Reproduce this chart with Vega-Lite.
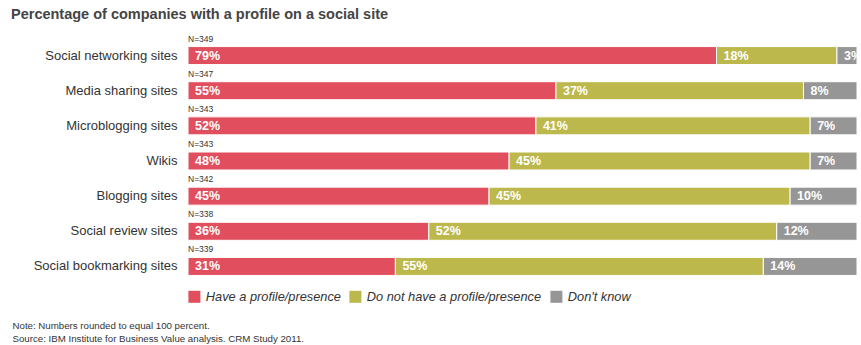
{
  "$schema": "https://vega.github.io/schema/vega-lite/v6.json",
  "autosize": "none",
  "width": 669,
  "height": 246,
  "padding": {"left": 188, "top": 38, "right": 4, "bottom": 61},
  "background": "white",
  "config": {
    "font": "Liberation Sans",
    "view": {"stroke": null}
  },
  "title": {
    "text": "Percentage of companies with a profile on a social site",
    "anchor": "start",
    "frame": "group",
    "dx": -177,
    "offset": 12,
    "fontSize": 14.5,
    "fontWeight": "bold",
    "color": "#444444",
    "font": "Liberation Sans"
  },
  "data": {
    "values": [
      {"site": "Social networking sites", "n": "N=349", "k": 1, "cat": "Have a profile/presence", "value": 79},
      {"site": "Social networking sites", "n": "N=349", "k": 2, "cat": "Do not have a profile/presence", "value": 18},
      {"site": "Social networking sites", "n": "N=349", "k": 3, "cat": "Don't know", "value": 3},
      {"site": "Media sharing sites", "n": "N=347", "k": 1, "cat": "Have a profile/presence", "value": 55},
      {"site": "Media sharing sites", "n": "N=347", "k": 2, "cat": "Do not have a profile/presence", "value": 37},
      {"site": "Media sharing sites", "n": "N=347", "k": 3, "cat": "Don't know", "value": 8},
      {"site": "Microblogging sites", "n": "N=343", "k": 1, "cat": "Have a profile/presence", "value": 52},
      {"site": "Microblogging sites", "n": "N=343", "k": 2, "cat": "Do not have a profile/presence", "value": 41},
      {"site": "Microblogging sites", "n": "N=343", "k": 3, "cat": "Don't know", "value": 7},
      {"site": "Wikis", "n": "N=343", "k": 1, "cat": "Have a profile/presence", "value": 48},
      {"site": "Wikis", "n": "N=343", "k": 2, "cat": "Do not have a profile/presence", "value": 45},
      {"site": "Wikis", "n": "N=343", "k": 3, "cat": "Don't know", "value": 7},
      {"site": "Blogging sites", "n": "N=342", "k": 1, "cat": "Have a profile/presence", "value": 45},
      {"site": "Blogging sites", "n": "N=342", "k": 2, "cat": "Do not have a profile/presence", "value": 45},
      {"site": "Blogging sites", "n": "N=342", "k": 3, "cat": "Don't know", "value": 10},
      {"site": "Social review sites", "n": "N=338", "k": 1, "cat": "Have a profile/presence", "value": 36},
      {"site": "Social review sites", "n": "N=338", "k": 2, "cat": "Do not have a profile/presence", "value": 52},
      {"site": "Social review sites", "n": "N=338", "k": 3, "cat": "Don't know", "value": 12},
      {"site": "Social bookmarking sites", "n": "N=339", "k": 1, "cat": "Have a profile/presence", "value": 31},
      {"site": "Social bookmarking sites", "n": "N=339", "k": 2, "cat": "Do not have a profile/presence", "value": 55},
      {"site": "Social bookmarking sites", "n": "N=339", "k": 3, "cat": "Don't know", "value": 14}
    ]
  },
  "transform": [
    {"stack": "value", "groupby": ["site"], "sort": [{"field": "k", "order": "ascending"}], "as": ["x0", "x1"]},
    {"calculate": "datum.value + '%'", "as": "label"}
  ],
  "encoding": {
    "y": {
      "field": "site",
      "type": "nominal",
      "sort": null,
      "scale": {"paddingInner": 0.488, "paddingOuter": 0.244},
      "axis": {
        "title": null,
        "domain": false,
        "ticks": false,
        "labelPadding": 11,
        "labelFontSize": 13,
        "labelColor": "#333333",
        "labelFont": "Liberation Sans"
      }
    }
  },
  "layer": [
    {
      "mark": {"type": "bar", "stroke": "white", "strokeWidth": 1},
      "encoding": {
        "x": {
          "field": "x0",
          "type": "quantitative",
          "scale": {"domain": [0, 100], "nice": false},
          "axis": {
            "title": ["Note: Numbers rounded to equal 100 percent.", "Source: IBM Institute for Business Value analysis. CRM Study 2011."],
            "labels": false,
            "ticks": false,
            "domain": false,
            "grid": false,
            "titleAnchor": "start",
            "titleAlign": "left",
            "titleBaseline": "alphabetic",
            "titleX": -176,
            "titleY": 44,
            "titleFontSize": 9.7,
            "titleFontWeight": "normal",
            "titleColor": "#333333",
            "titleLineHeight": 13,
            "titleFont": "Liberation Sans"
          }
        },
        "x2": {"field": "x1"},
        "color": {
          "field": "cat",
          "type": "nominal",
          "scale": {
            "domain": ["Have a profile/presence", "Do not have a profile/presence", "Don't know"],
            "range": ["#E14E5D", "#BDB84C", "#969696"]
          },
          "legend": {
            "title": null,
            "orient": "none",
            "legendX": 0,
            "legendY": 252,
            "direction": "horizontal",
            "symbolType": "square",
            "symbolSize": 144,
            "symbolStrokeWidth": 0,
            "symbolOpacity": 1,
            "labelFontSize": 12.8,
            "labelFontStyle": "italic",
            "labelColor": "#333333",
            "labelFont": "Liberation Sans",
            "labelOffset": 5,
            "labelLimit": 400,
            "columnPadding": 8
          }
        }
      }
    },
    {
      "mark": {"type": "text", "align": "left", "baseline": "middle", "dx": 7, "color": "white", "fontWeight": "bold", "fontSize": 12.5, "font": "Liberation Sans"},
      "encoding": {
        "x": {"field": "x0", "type": "quantitative"},
        "text": {"field": "label"},
        "detail": {"field": "cat"}
      }
    },
    {
      "transform": [{"filter": "datum.k === 1"}],
      "mark": {"type": "text", "align": "left", "baseline": "middle", "dy": -17, "dx": 0, "color": "#333333", "fontSize": 8.5, "font": "Liberation Sans"},
      "encoding": {
        "x": {"datum": 0, "type": "quantitative"},
        "text": {"field": "n"}
      }
    }
  ]
}
